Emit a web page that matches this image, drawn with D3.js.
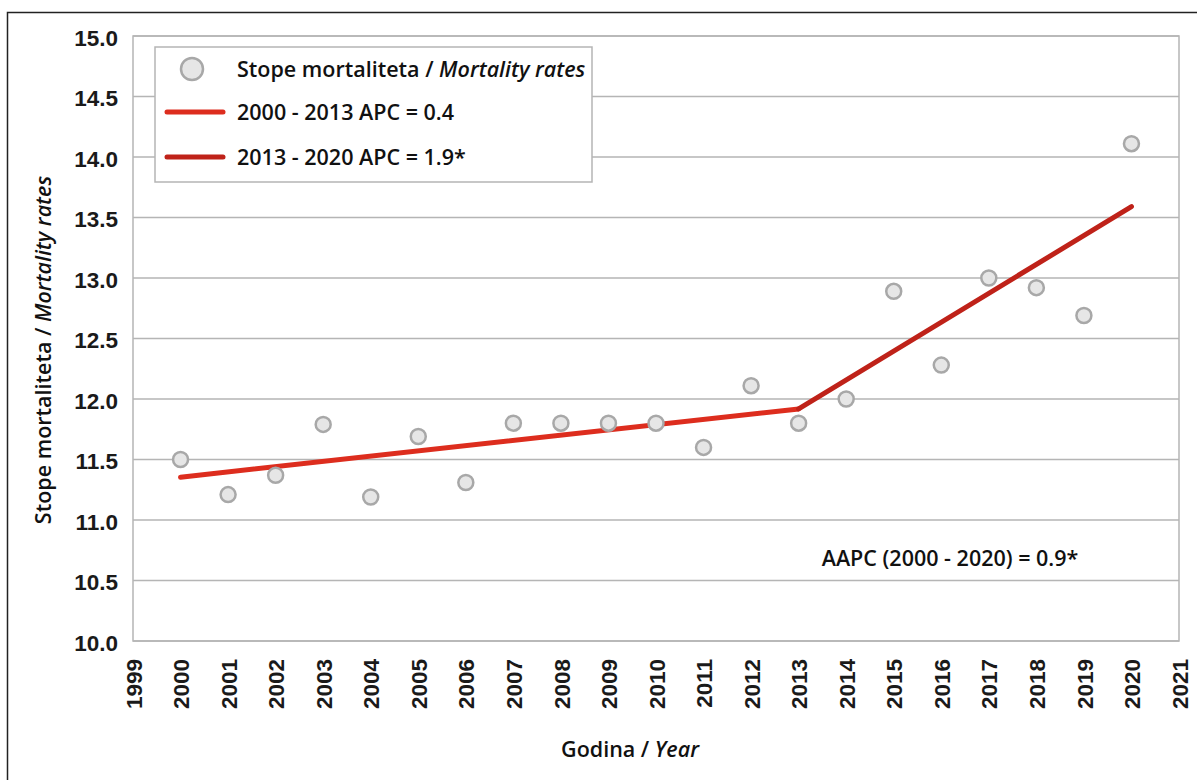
<!DOCTYPE html>
<html>
<head>
<meta charset="utf-8">
<script src="https://cdn.jsdelivr.net/npm/d3@7"></script>
<style>
  body { margin: 0; background: #fff; }
  svg { display: block; font-family: "Open Sans", "Noto Sans", sans-serif; }
</style>
</head>
<body>
<div id="chart"></div>
<script>
// Years and mortality rates.
const years = [2000, 2001, 2002, 2003, 2004, 2005, 2006, 2007, 2008, 2009, 2010,
               2011, 2012, 2013, 2014, 2015, 2016, 2017, 2018, 2019, 2020];
const rates = [11.50, 11.21, 11.37, 11.79, 11.19, 11.69, 11.31, 11.80, 11.80, 11.80, 11.80,
               11.60, 12.11, 11.80, 12.00, 12.89, 12.28, 13.00, 12.92, 12.69, 14.11];

// Joinpoint trend segments.
const trendYears = [2000, 2013, 2020];
const trendValues = [11.354, 11.918, 13.59];

const xTicks = d3.range(1999, 2022);
const yTicks = [10.0, 10.5, 11.0, 11.5, 12.0, 12.5, 13.0, 13.5, 14.0, 14.5, 15.0];

const legendLabels = ['2000 - 2013 APC = 0.4', '2013 - 2020 APC = 1.9*'];
const lineColors = ['#dd2d1e', '#bf2219'];

const width = 1197;
const height = 780;
const plot = { left: 133, right: 1179, top: 36, bottom: 641 };
const textSize = '21.5px';
const tickSize = '22.5px';

const svg = d3.select('#chart')
  .append('svg')
  .attr('width', width)
  .attr('height', height);

// Outer frame.
svg.append('rect')
  .attr('x', 7.5)
  .attr('y', 12.5)
  .attr('width', 1300)
  .attr('height', 1000)
  .attr('fill', 'none')
  .attr('stroke', '#222')
  .attr('stroke-width', 1.5);

const xScale = d3.scaleLinear()
  .domain([1999, 2021])
  .range([plot.left, plot.right]);
const yScale = d3.scaleLinear()
  .domain([10, 15])
  .range([plot.bottom, plot.top]);

// Grid lines.
svg.append('g')
  .selectAll('line')
  .data(yTicks)
  .enter()
  .append('line')
  .attr('x1', plot.left)
  .attr('x2', plot.right)
  .attr('y1', (d) => yScale(d))
  .attr('y2', (d) => yScale(d))
  .attr('stroke', '#b5b5b5')
  .attr('stroke-width', 1.5);

// Plot frame.
svg.append('rect')
  .attr('x', plot.left)
  .attr('y', plot.top)
  .attr('width', plot.right - plot.left)
  .attr('height', plot.bottom - plot.top)
  .attr('fill', 'none')
  .attr('stroke', '#b5b5b5')
  .attr('stroke-width', 1.5);

// Axes.
const yAxis = d3.axisLeft(yScale)
  .tickValues(yTicks)
  .tickFormat(d3.format('.1f'))
  .tickSize(0)
  .tickPadding(15);
const gy = svg.append('g')
  .attr('id', 'y-axis')
  .attr('transform', `translate(${plot.left},0)`)
  .call(yAxis);
gy.select('.domain').remove();
gy.selectAll('text')
  .attr('fill', '#1a1a1a')
  .attr('dy', '0.4em')
  .style('font-size', tickSize)
  .style('font-weight', 600);

const xAxis = d3.axisBottom(xScale)
  .tickValues(xTicks)
  .tickFormat(d3.format('d'))
  .tickSize(0);
const gx = svg.append('g')
  .attr('id', 'x-axis')
  .attr('transform', `translate(0,${plot.bottom})`)
  .call(xAxis);
gx.select('.domain').remove();
gx.selectAll('text')
  .attr('fill', '#1a1a1a')
  .attr('transform', 'rotate(-90)')
  .attr('x', -18)
  .attr('y', 0)
  .attr('dy', '0.36em')
  .attr('text-anchor', 'end')
  .style('font-size', tickSize)
  .style('font-weight', 600);

// Trend lines.
for (let i = 0; i < 2; i++)
{
  svg.append('line')
    .attr('x1', xScale(trendYears[i]))
    .attr('y1', yScale(trendValues[i]))
    .attr('x2', xScale(trendYears[i + 1]))
    .attr('y2', yScale(trendValues[i + 1]))
    .attr('stroke', lineColors[i])
    .attr('stroke-width', 5)
    .attr('stroke-linecap', 'round');
}

// Points.
svg.append('g')
  .selectAll('circle')
  .data(years)
  .enter()
  .append('circle')
  .attr('cx', (d) => xScale(d))
  .attr('cy', (d, i) => yScale(rates[i]))
  .attr('r', 7.5)
  .attr('fill', '#e6e6e6')
  .attr('stroke', '#a8a8a8')
  .attr('stroke-width', 2.5);

// Legend.
const legend = svg.append('g').attr('id', 'legend');
legend.append('rect')
  .attr('x', 155)
  .attr('y', 47)
  .attr('width', 437)
  .attr('height', 135)
  .attr('fill', '#fff')
  .attr('stroke', '#b5b5b5')
  .attr('stroke-width', 1.5);
legend.append('circle')
  .attr('cx', 192)
  .attr('cy', 69)
  .attr('r', 11)
  .attr('fill', '#e6e6e6')
  .attr('stroke', '#a8a8a8')
  .attr('stroke-width', 2.5);
const t0 = legend.append('text')
  .attr('x', 237)
  .attr('y', 69)
  .attr('dy', '0.35em')
  .attr('fill', '#111')
  .style('font-size', textSize)
  .style('font-weight', 600);
t0.append('tspan').text('Stope mortaliteta / ');
t0.append('tspan').style('font-style', 'italic').text('Mortality rates');

const rowY = [112, 157];
for (let i = 0; i < 2; i++)
{
  legend.append('line')
    .attr('x1', 167)
    .attr('x2', 223)
    .attr('y1', rowY[i])
    .attr('y2', rowY[i])
    .attr('stroke', lineColors[i])
    .attr('stroke-width', 5)
    .attr('stroke-linecap', 'round');
  legend.append('text')
    .attr('x', 237)
    .attr('y', rowY[i])
    .attr('dy', '0.35em')
    .attr('fill', '#111')
    .style('font-size', textSize)
    .style('font-weight', 600)
    .text(legendLabels[i]);
}

// AAPC note.
svg.append('text')
  .attr('x', 950)
  .attr('y', 558)
  .attr('dy', '0.35em')
  .attr('text-anchor', 'middle')
  .attr('fill', '#111')
  .style('font-size', textSize)
  .style('font-weight', 600)
  .text('AAPC (2000 - 2020) = 0.9*');

// Axis titles.
const xt = svg.append('text')
  .attr('x', 630)
  .attr('y', 749)
  .attr('dy', '0.35em')
  .attr('text-anchor', 'middle')
  .attr('fill', '#111')
  .style('font-size', textSize)
  .style('font-weight', 600);
xt.append('tspan').text('Godina / ');
xt.append('tspan').style('font-style', 'italic').text('Year');

const yt = svg.append('text')
  .attr('transform', 'rotate(-90)')
  .attr('x', -350)
  .attr('y', 43)
  .attr('dy', '0.35em')
  .attr('text-anchor', 'middle')
  .attr('fill', '#111')
  .style('font-size', textSize)
  .style('font-weight', 600);
yt.append('tspan').text('Stope mortaliteta / ');
yt.append('tspan').style('font-style', 'italic').text('Mortality rates');
</script>
</body>
</html>
